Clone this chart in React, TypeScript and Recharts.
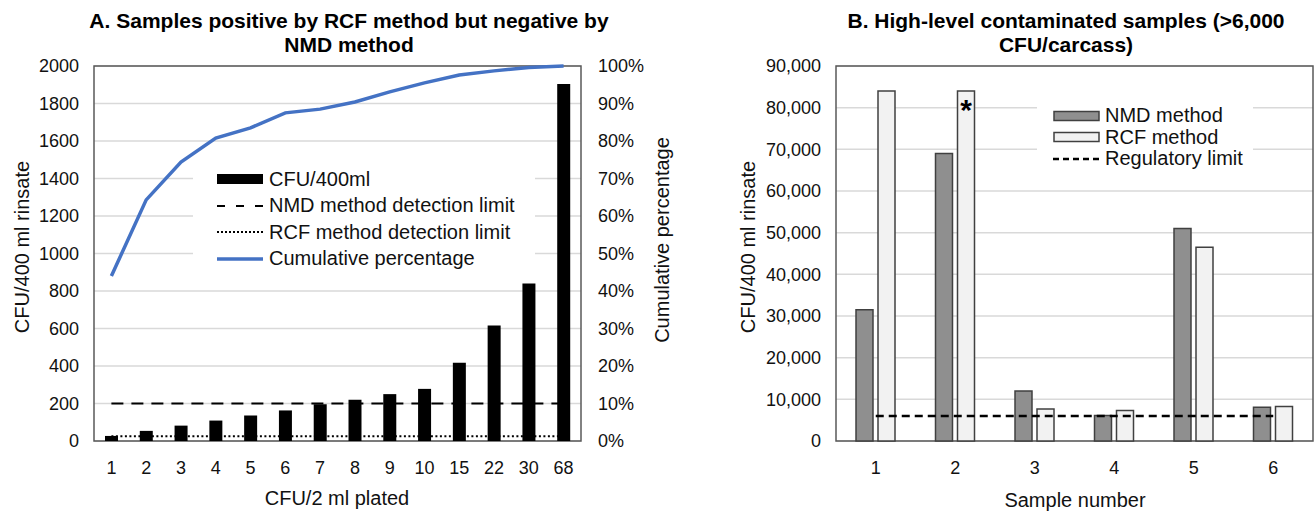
import React from "react";
import {
  ComposedChart,
  Bar,
  Line,
  XAxis,
  YAxis,
  CartesianGrid,
  ReferenceArea,
  Legend,
  LabelList,
} from "recharts";

// Panel A: samples positive by RCF but negative by NMD
const platedCats = ["1", "2", "3", "4", "5", "6", "7", "8", "9", "10", "15", "22", "30", "68"];
const cfuPer400 = [27, 54, 82, 109, 136, 163, 196, 220, 250, 278, 418, 616, 840, 1904];
const cumulativePct = [0.44, 0.643, 0.744, 0.808, 0.835, 0.875, 0.885, 0.904, 0.931, 0.955, 0.976, 0.987, 0.996, 1.0];
const nmdDetectionLimit = 200;
const rcfDetectionLimit = 25;
const leftTicksA = [0, 200, 400, 600, 800, 1000, 1200, 1400, 1600, 1800, 2000];
const rightTicksA = [0, 0.1, 0.2, 0.3, 0.4, 0.5, 0.6, 0.7, 0.8, 0.9, 1];

// Panel B: high-level contaminated samples
const sampleNums = ["1", "2", "3", "4", "5", "6"];
const nmdValues = [31500, 69000, 12000, 6100, 51000, 8100];
const rcfValues = [84000, 84000, 7700, 7300, 46500, 8300];
const rcfMarks = ["", "*", "", "", "", ""];
const regulatoryLimit = 6000;
const ticksB = [0, 10000, 20000, 30000, 40000, 50000, 60000, 70000, 80000, 90000];

const FONT = '"Liberation Sans", Arial, sans-serif';
const TICK = { fontSize: 18, fill: "#111", fontFamily: FONT };
const GRID = "#d9d9d9";
const BORDER = "#595959";

const dataA = platedCats.map((c, i) => ({
  cat: c,
  cfu: cfuPer400[i],
  cum: cumulativePct[i],
  nmd: nmdDetectionLimit,
  rcf: rcfDetectionLimit,
}));

const dataB = sampleNums.map((s, i) => ({
  sample: s,
  nmd: nmdValues[i],
  rcf: rcfValues[i],
  mark: rcfMarks[i],
  limit: regulatoryLimit,
}));

function LegendRow({ symbol, label, h }: { symbol: React.ReactNode; label: string; h: number }) {
  return (
    <div style={{ display: "flex", alignItems: "center", height: h }}>
      <svg width={47} height={12} style={{ display: "block" }}>
        {symbol}
      </svg>
      <span style={{ marginLeft: 5, whiteSpace: "nowrap" }}>{label}</span>
    </div>
  );
}

function LegendA() {
  return (
    <div style={{ background: "#fff", width: 342, height: 110, paddingLeft: 24, paddingTop: 1, boxSizing: "border-box", fontFamily: FONT, fontSize: 20, color: "#111" }}>
      <LegendRow h={26.5} label="CFU/400ml" symbol={<rect x={0} y={1} width={46} height={10} fill="#000" />} />
      <LegendRow h={26.5} label="NMD method detection limit" symbol={<line x1={0} x2={46} y1={6} y2={6} stroke="#000" strokeWidth={2} strokeDasharray="8 11" />} />
      <LegendRow h={26.5} label="RCF method detection limit" symbol={<line x1={0} x2={46} y1={6} y2={6} stroke="#000" strokeWidth={2} strokeDasharray="2 2" />} />
      <LegendRow h={26.5} label="Cumulative percentage" symbol={<line x1={0} x2={46} y1={6} y2={6} stroke="#4472C4" strokeWidth={3.5} />} />
    </div>
  );
}

function LegendB() {
  return (
    <div style={{ background: "#fff", width: 216, height: 74, paddingLeft: 16, paddingTop: 3, boxSizing: "border-box", fontFamily: FONT, fontSize: 20, color: "#111" }}>
      <LegendRow h={21.5} label="NMD method" symbol={<rect x={1} y={1.5} width={45} height={9} fill="#8f8f8f" stroke="#404040" strokeWidth={1.5} />} />
      <LegendRow h={21.5} label="RCF method" symbol={<rect x={1} y={1.5} width={45} height={9} fill="#f2f2f2" stroke="#404040" strokeWidth={1.5} />} />
      <LegendRow h={21.5} label="Regulatory limit" symbol={<line x1={0} x2={47} y1={6} y2={6} stroke="#000" strokeWidth={2.5} strokeDasharray="6 4" />} />
    </div>
  );
}

const titleStyle: React.CSSProperties = {
  position: "absolute",
  top: 9,
  transform: "translateX(-50%)",
  fontFamily: FONT,
  fontWeight: "bold",
  fontSize: 21,
  lineHeight: "24px",
  textAlign: "center",
  color: "#000",
  whiteSpace: "nowrap",
};

function AxisTitle({ x, y, text, rotate }: { x: number; y: number; text: string; rotate?: boolean }) {
  return (
    <div
      style={{
        position: "absolute",
        left: x,
        top: y,
        transform: `translate(-50%, -50%)${rotate ? " rotate(-90deg)" : ""}`,
        fontFamily: FONT,
        fontSize: 20,
        color: "#111",
        whiteSpace: "nowrap",
        lineHeight: "22px",
      }}
    >
      {text}
    </div>
  );
}

export default function App() {
  return (
    <div style={{ position: "absolute", left: 0, top: 0, width: 1314, height: 511, background: "#fff", overflow: "hidden" }}>
      {/* Panel A */}
      <div style={{ position: "absolute", left: 0, top: 0 }}>
        <ComposedChart width={700} height={511} data={dataA} margin={{ top: 66, right: 0, bottom: 0, left: 0 }}>
          <CartesianGrid yAxisId="left" vertical={false} stroke={GRID} strokeWidth={1.5} />
          <XAxis dataKey="cat" interval={0} height={70} tickLine={false} axisLine={false} tickSize={0} tickMargin={20} tick={TICK} />
          <YAxis yAxisId="left" domain={[0, 2000]} ticks={leftTicksA} width={94} tickLine={false} axisLine={false} tickSize={0} tickMargin={15} tick={TICK} />
          <YAxis
            yAxisId="right"
            orientation="right"
            domain={[0, 1]}
            ticks={rightTicksA}
            width={119}
            tickLine={false}
            axisLine={false}
            tickSize={0}
            tickMargin={17}
            tick={TICK}
            tickFormatter={(v: number) => `${Math.round(v * 100)}%`}
          />
          <ReferenceArea yAxisId="left" y1={0} y2={2000} fill="none" stroke={BORDER} strokeWidth={1.5} />
          <Bar yAxisId="left" dataKey="cfu" fill="#000" barSize={13} isAnimationActive={false} />
          <Line yAxisId="left" dataKey="nmd" type="linear" stroke="#000" strokeWidth={2} strokeDasharray="12 8" dot={false} activeDot={false} isAnimationActive={false} />
          <Line yAxisId="left" dataKey="rcf" type="linear" stroke="#000" strokeWidth={2} strokeDasharray="2 2.5" dot={false} activeDot={false} isAnimationActive={false} />
          <Line yAxisId="right" dataKey="cum" type="linear" stroke="#4472C4" strokeWidth={3.5} dot={false} activeDot={false} isAnimationActive={false} />
          <Legend layout="vertical" align="center" verticalAlign="middle" content={<LegendA />} wrapperStyle={{ left: 193, top: 165, width: 342, height: 110 }} />
        </ComposedChart>
      </div>

      {/* Panel B */}
      <div style={{ position: "absolute", left: 700, top: 0 }}>
        <ComposedChart width={614} height={511} data={dataB} margin={{ top: 66, right: 1, bottom: 0, left: 0 }} barGap={5}>
          <CartesianGrid vertical={false} stroke={GRID} strokeWidth={1.5} />
          <XAxis dataKey="sample" interval={0} height={70} tickLine={false} axisLine={false} tickSize={0} tickMargin={20} tick={TICK} />
          <YAxis
            domain={[0, 90000]}
            ticks={ticksB}
            width={136}
            tickLine={false}
            axisLine={false}
            tickSize={0}
            tickMargin={15}
            tick={TICK}
            tickFormatter={(v: number) => v.toLocaleString("en-US")}
          />
          <ReferenceArea y1={0} y2={90000} fill="none" stroke={BORDER} strokeWidth={1.5} />
          <Bar dataKey="nmd" fill="#8f8f8f" stroke="#404040" strokeWidth={1.5} barSize={17} isAnimationActive={false} />
          <Bar dataKey="rcf" fill="#f2f2f2" stroke="#404040" strokeWidth={1.5} barSize={17} isAnimationActive={false}>
            <LabelList dataKey="mark" position="insideTop" offset={8} style={{ fontSize: 30, fontWeight: "bold", fill: "#000", fontFamily: FONT }} />
          </Bar>
          <Line dataKey="limit" type="linear" stroke="#000" strokeWidth={2.5} strokeDasharray="8 5" dot={false} activeDot={false} isAnimationActive={false} />
          <Legend layout="vertical" align="center" verticalAlign="middle" content={<LegendB />} wrapperStyle={{ left: 337, top: 102, width: 216, height: 74 }} />
        </ComposedChart>
      </div>

      <div style={{ ...titleStyle, left: 349 }}>
        A. Samples positive by RCF method but negative by
        <br />
        NMD method
      </div>
      <div style={{ ...titleStyle, left: 1066 }}>
        B. High-level contaminated samples (&gt;6,000
        <br />
        CFU/carcass)
      </div>

      <AxisTitle x={22} y={247} text="CFU/400 ml rinsate" rotate />
      <AxisTitle x={662} y={240} text="Cumulative percentage" rotate />
      <AxisTitle x={337} y={498} text="CFU/2 ml plated" />
      <AxisTitle x={748} y={247} text="CFU/400 ml rinsate" rotate />
      <AxisTitle x={1075} y={500} text="Sample number" />
    </div>
  );
}
